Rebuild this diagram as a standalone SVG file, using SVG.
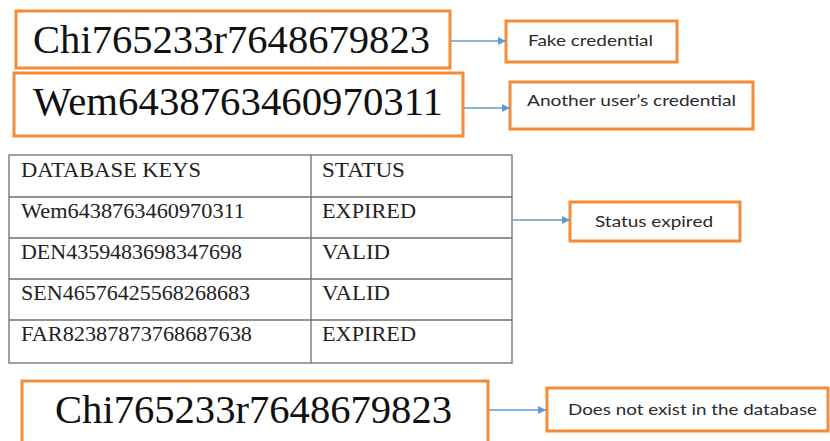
<svg xmlns="http://www.w3.org/2000/svg" width="830" height="441" viewBox="0 0 830 441">
  <defs>
    <marker id="arrow" viewBox="0 0 10 10" refX="10" refY="5" markerWidth="9" markerHeight="8" markerUnits="userSpaceOnUse" orient="auto">
      <path d="M0,0 L10,5 L0,10 Z" fill="#5B9BD5"/>
    </marker>
  </defs>
  <style>
    .box { fill: #FFFFFF; stroke: #F58B36; stroke-width: 3; }
    .key { font-family: "Liberation Serif", "Times New Roman", serif; font-size: 40px; fill: #111111; }
    .note { font-family: Lato, "Liberation Sans", Arial, sans-serif; font-size: 16px; fill: #2A2A2A; }
    .cell { font-family: "Liberation Serif", "Times New Roman", serif; font-size: 21px; fill: #222222; }
    .grid { fill: none; stroke: #6E6E6E; stroke-width: 1.3; }
    .link { fill: none; stroke: #5B9BD5; stroke-width: 1.5; marker-end: url(#arrow); }
  </style>
  <rect width="830" height="441" fill="#FFFFFF"/>

  <!-- credential keys -->
  <g id="key-fake">
    <rect class="box" x="16" y="11" width="434" height="57"/>
    <text class="key" x="33" y="53" textLength="397" lengthAdjust="spacingAndGlyphs">Chi765233r7648679823</text>
  </g>
  <g id="key-other">
    <rect class="box" x="14" y="73" width="449" height="63"/>
    <text class="key" x="33" y="115" textLength="410" lengthAdjust="spacingAndGlyphs">Wem6438763460970311</text>
  </g>

  <!-- annotations -->
  <g id="note-fake">
    <rect class="box" x="506" y="21" width="171" height="41"/>
    <text class="note" x="528" y="46" textLength="125" lengthAdjust="spacingAndGlyphs">Fake credential</text>
  </g>
  <g id="note-other">
    <rect class="box" x="510" y="82" width="243" height="47"/>
    <text class="note" x="527" y="106" textLength="209" lengthAdjust="spacingAndGlyphs">Another user’s credential</text>
  </g>

  <!-- key table -->
  <g id="key-table">
    <rect class="grid" x="9" y="155" width="503" height="208"/>
    <line class="grid" x1="311" y1="155" x2="311" y2="363"/>
    <line class="grid" x1="9" y1="197" x2="512" y2="197"/>
    <line class="grid" x1="9" y1="238" x2="512" y2="238"/>
    <line class="grid" x1="9" y1="279" x2="512" y2="279"/>
    <line class="grid" x1="9" y1="320" x2="512" y2="320"/>
    <text class="cell" x="21" y="177" textLength="180" lengthAdjust="spacingAndGlyphs">DATABASE KEYS</text>
    <text class="cell" x="322" y="177" textLength="83" lengthAdjust="spacingAndGlyphs">STATUS</text>
    <text class="cell" x="21" y="218" textLength="224" lengthAdjust="spacingAndGlyphs">Wem6438763460970311</text>
    <text class="cell" x="322" y="218" textLength="94" lengthAdjust="spacingAndGlyphs">EXPIRED</text>
    <text class="cell" x="21" y="259" textLength="221" lengthAdjust="spacingAndGlyphs">DEN4359483698347698</text>
    <text class="cell" x="322" y="259" textLength="68" lengthAdjust="spacingAndGlyphs">VALID</text>
    <text class="cell" x="21" y="300" textLength="229" lengthAdjust="spacingAndGlyphs">SEN46576425568268683</text>
    <text class="cell" x="322" y="300" textLength="68" lengthAdjust="spacingAndGlyphs">VALID</text>
    <text class="cell" x="21" y="341" textLength="231" lengthAdjust="spacingAndGlyphs">FAR82387873768687638</text>
    <text class="cell" x="322" y="341" textLength="94" lengthAdjust="spacingAndGlyphs">EXPIRED</text>
  </g>

  <g id="note-expired">
    <rect class="box" x="570" y="202" width="170" height="39"/>
    <text class="note" x="595" y="227" textLength="118" lengthAdjust="spacingAndGlyphs">Status expired</text>
  </g>

  <!-- lookup result -->
  <g id="key-lookup">
    <rect class="box" x="22" y="381" width="466" height="70"/>
    <text class="key" x="55" y="423" font-size="39" textLength="397" lengthAdjust="spacingAndGlyphs">Chi765233r7648679823</text>
  </g>
  <g id="note-missing">
    <rect class="box" x="547" y="388" width="281" height="43"/>
    <text class="note" x="568" y="415" textLength="249" lengthAdjust="spacingAndGlyphs">Does not exist in the database</text>
  </g>

  <g id="connectors">
    <line class="link" x1="451" y1="41" x2="506" y2="41"/>
    <line class="link" x1="464" y1="108" x2="510" y2="108"/>
    <line class="link" x1="513" y1="220" x2="570" y2="220"/>
    <line class="link" x1="489" y1="410" x2="546" y2="410"/>
  </g>
</svg>
